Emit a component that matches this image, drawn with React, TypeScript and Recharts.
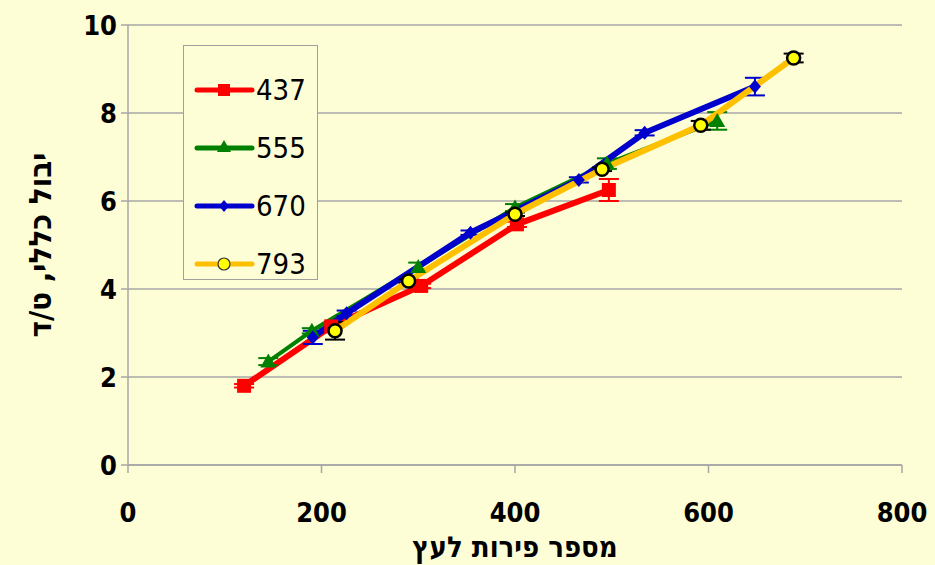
import React from 'react';
import { LineChart, Line, XAxis, YAxis, CartesianGrid, ErrorBar } from 'recharts';

const series437X = [120, 210, 303, 402, 497];
const series437Y = [1.8, 3.15, 4.07, 5.47, 6.25];
const series437E = [0.04, 0.06, 0.05, 0.06, 0.25];

const series555X = [145, 190, 300, 400, 495, 609];
const series555Y = [2.35, 3.05, 4.5, 5.85, 6.85, 7.82];
const series555E = [0.08, 0.06, 0.1, 0.08, 0.12, 0.2];

const series670X = [191, 226, 354, 466, 534, 648];
const series670Y = [2.9, 3.45, 5.28, 6.48, 7.55, 8.6];
const series670E = [0.15, 0.06, 0.05, 0.06, 0.06, 0.2];

const series793X = [214, 290, 400, 490, 592, 688];
const series793Y = [3.05, 4.18, 5.7, 6.72, 7.72, 9.25];
const series793E = [0.2, 0.04, 0.04, 0.04, 0.1, 0.1];

const xTicks = [0, 200, 400, 600, 800];
const yTicks = [0, 2, 4, 6, 8, 10];
const xTitle = 'מספר פירות לעץ';
const yTitle = 'יבול כללי, ט/ד';

const build = (xs: number[], ys: number[], es: number[]) =>
  xs.map((x, i) => ({ x, y: ys[i], err: es[i] }));

const d437 = build(series437X, series437Y, series437E);
const d555 = build(series555X, series555Y, series555E);
const d670 = build(series670X, series670Y, series670E);
const d793 = build(series793X, series793Y, series793E);

const BG = '#FDFDD6';
const RED = '#FF0000';
const GREEN = '#008000';
const BLUE = '#0000CC';
const YELLOW = '#FFC000';
const FONT = "'DejaVu Sans Condensed', 'DejaVu Sans', sans-serif";

const Square = (p: any) => {
  const { cx, cy } = p;
  if (cx == null) return null;
  return <rect x={cx - 7} y={cy - 7} width={14} height={14} fill={RED} />;
};
const Tri = (p: any) => {
  const { cx, cy } = p;
  if (cx == null) return null;
  return <polygon points={`${cx},${cy - 8} ${cx + 8},${cy + 6} ${cx - 8},${cy + 6}`} fill={GREEN} />;
};
const Diamond = (p: any) => {
  const { cx, cy } = p;
  if (cx == null) return null;
  return <polygon points={`${cx},${cy - 7} ${cx + 6},${cy} ${cx},${cy + 7} ${cx - 6},${cy}`} fill={BLUE} />;
};
const Circ = (p: any) => {
  const { cx, cy } = p;
  if (cx == null) return null;
  return <circle cx={cx} cy={cy} r={6.5} fill="#FFFF00" stroke="#000" strokeWidth={2.5} />;
};

const legendItems = [
  { name: '437', color: RED, shape: 'square' },
  { name: '555', color: GREEN, shape: 'tri' },
  { name: '670', color: BLUE, shape: 'diamond' },
  { name: '793', color: YELLOW, shape: 'circle' },
];

const LegendBox = () => (
  <div
    style={{
      position: 'absolute',
      left: 183,
      top: 45,
      width: 135,
      height: 235,
      border: '1.5px solid #A0A0A0',
      background: BG,
      boxSizing: 'border-box',
      paddingTop: 15,
    }}
  >
    {legendItems.map((it) => (
      <div key={it.name} style={{ height: 58, display: 'flex', alignItems: 'center' }}>
        <svg width={62} height={30} style={{ marginLeft: 10, flex: 'none' }}>
          <line x1={3} y1={15} x2={58} y2={15} stroke={it.color} strokeWidth={5} strokeLinecap="round" />
          {it.shape === 'square' && <rect x={24} y={9} width={12} height={12} fill={RED} />}
          {it.shape === 'tri' && <polygon points="30,7 37,19 23,19" fill={GREEN} />}
          {it.shape === 'diamond' && <polygon points="30,9 35,15 30,21 25,15" fill={BLUE} />}
          {it.shape === 'circle' && <circle cx={30} cy={15} r={6} fill="#FFFF00" stroke="#333" strokeWidth={1.2} />}
        </svg>
        <span style={{ fontFamily: "'DejaVu Sans Condensed', 'DejaVu Sans', sans-serif", fontSize: 29, color: '#000', marginLeft: 0, lineHeight: '30px' }}>
          {it.name}
        </span>
      </div>
    ))}
  </div>
);

export default function App() {
  return (
    <div style={{ position: 'absolute', left: 0, top: 0, width: 935, height: 565, background: BG }}>
      <LineChart width={935} height={565} margin={{ top: 25, right: 33, bottom: 0, left: 0 }}>
        <CartesianGrid vertical={false} stroke="#A6A6A6" strokeWidth={1.5} />
        <XAxis
          type="number"
          dataKey="x"
          domain={[0, 800]}
          ticks={xTicks}
          height={100}
          stroke="#A6A6A6"
          strokeWidth={1.5}
          tickSize={8}
          tickMargin={30}
          tick={{ fill: '#000', fontSize: 27, fontWeight: 'bold', fontFamily: FONT }}
          label={{ value: xTitle, position: 'insideBottom', offset: 8, fill: '#000', fontSize: 29, fontWeight: 'bold', fontFamily: FONT }}
          allowDuplicatedCategory={false}
        />
        <YAxis
          type="number"
          domain={[0, 10]}
          ticks={yTicks}
          width={128}
          stroke="#A6A6A6"
          strokeWidth={1.5}
          tickSize={7}
          tickMargin={4}
          tick={{ fill: '#000', fontSize: 27, fontWeight: 'bold', fontFamily: FONT }}
          label={{ value: yTitle, angle: -90, position: 'insideLeft', offset: 40, style: { textAnchor: 'middle' }, fill: '#000', fontSize: 31, fontWeight: 'bold', fontFamily: FONT }}
        />
        <Line data={d437} dataKey="y" name="437" stroke={RED} strokeWidth={6} dot={<Square />} activeDot={false} isAnimationActive={false}>
          <ErrorBar dataKey="err" direction="y" width={10} stroke={RED} strokeWidth={2} />
        </Line>
        <Line data={d555} dataKey="y" name="555" stroke={GREEN} strokeWidth={4} dot={<Tri />} activeDot={false} isAnimationActive={false}>
          <ErrorBar dataKey="err" direction="y" width={10} stroke={GREEN} strokeWidth={2} />
        </Line>
        <Line data={d670} dataKey="y" name="670" stroke={BLUE} strokeWidth={6} dot={<Diamond />} activeDot={false} isAnimationActive={false}>
          <ErrorBar dataKey="err" direction="y" width={10} stroke={BLUE} strokeWidth={2} />
        </Line>
        <Line data={d793} dataKey="y" name="793" stroke={YELLOW} strokeWidth={6} dot={<Circ />} activeDot={false} isAnimationActive={false}>
          <ErrorBar dataKey="err" direction="y" width={10} stroke="#000" strokeWidth={2} />
        </Line>
      </LineChart>
      <LegendBox />
    </div>
  );
}
